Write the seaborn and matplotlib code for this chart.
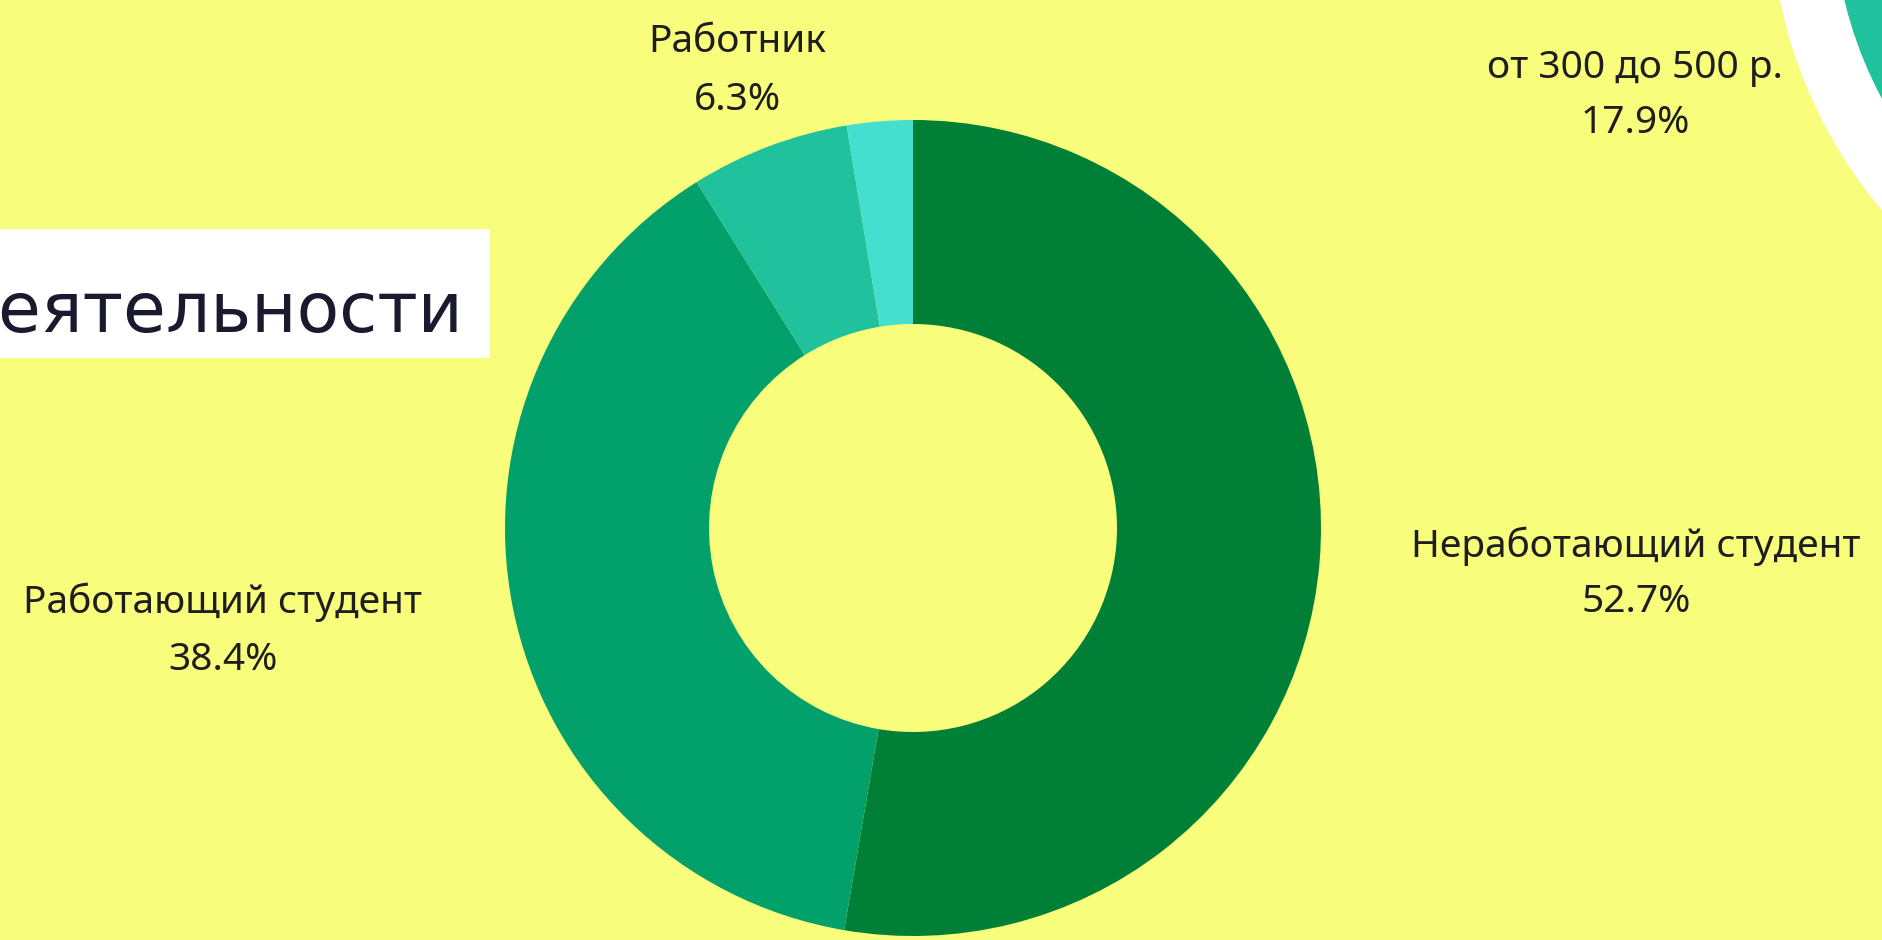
import matplotlib
matplotlib.use("Agg")
import matplotlib.pyplot as plt
import seaborn as sns
from matplotlib.patches import Circle, Rectangle

# ---- data ----
categories = ["Неработающий студент", "Работающий студент", "Работник", "Другое"]
shares = [52.7, 38.4, 6.3, 2.6]
shown_labels = ["Неработающий студент", "Работающий студент", "Работник", None]
other_chart_label = "от 300 до 500 р."
other_chart_value = 17.9
side_title = "деятельности"

W, H = 1883, 940
BG = "#f8fd7b"
TXT = "#1e1e1e"
palette = sns.color_palette(["#008037", "#02a06a", "#1fc29d", "#45dfcf"])

sns.set_theme(style="white")
plt.rcParams["font.family"] = ["Noto Sans", "DejaVu Sans"]

fig = plt.figure(figsize=(W / 100, H / 100), dpi=100, facecolor=BG)
ax = fig.add_axes([0, 0, 1, 1])
ax.set_facecolor(BG)

def Y(ypx):
    return H - ypx

# neighbouring chart fragment (top right)
ax.add_patch(Circle((2245, Y(-96)), 475, facecolor="white", edgecolor="none", zorder=1))
ax.add_patch(Circle((2245, Y(-96)), 412, facecolor="#1fc29d", edgecolor="none", zorder=2))

# main donut
cx, cy, R = 913, Y(528), 408
ax.pie(shares, colors=palette, startangle=90, counterclock=False,
       center=(cx, cy), radius=R,
       wedgeprops=dict(width=R * 0.5, linewidth=0, edgecolor="none"))

ax.set_xlim(0, W)
ax.set_ylim(0, H)
ax.set_aspect("equal")
ax.axis("off")

fs = 28
def label(xc, y1, y2, name, val):
    ax.text(xc, Y(y1), name, ha="center", va="baseline", fontsize=fs, color=TXT, zorder=5)
    ax.text(xc, Y(y2), f"{val:.1f}%", ha="center", va="baseline", fontsize=fs, color=TXT, zorder=5)

label(1636, 557, 612, shown_labels[0], shares[0])
label(223, 613, 670, shown_labels[1], shares[1])
label(737, 52, 110, shown_labels[2], shares[2])
label(1635, 78, 133, other_chart_label, other_chart_value)

# white title box fragment (left)
ax.add_patch(Rectangle((0, Y(358)), 490, 129, facecolor="white", edgecolor="none", zorder=3))
ax.text(463, Y(332), side_title, ha="right", va="baseline", fontsize=50,
        family=["DejaVu Sans"], color="#1a1a2e", zorder=4)

fig.savefig("out.png", dpi=100, facecolor=BG)
